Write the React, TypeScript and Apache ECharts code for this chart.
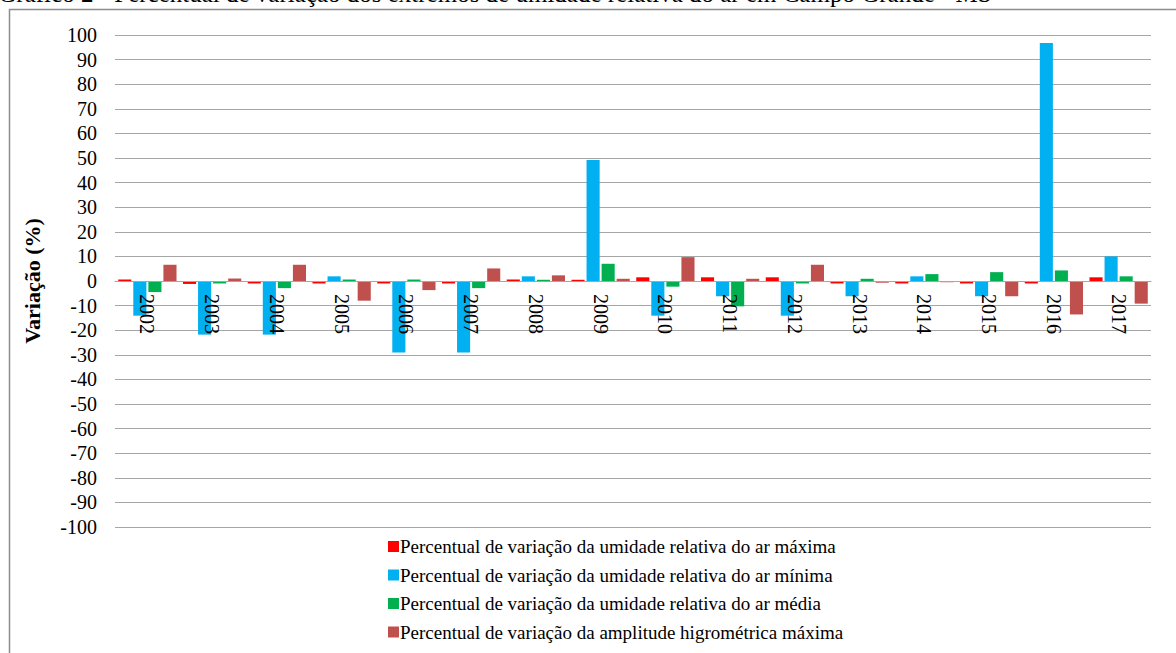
import React, { useEffect, useRef } from "react";
import * as echarts from "echarts";

const years = ["2002","2003","2004","2005","2006","2007","2008","2009","2010","2011","2012","2013","2014","2015","2016","2017"];
const urMax = [0.6, -1.2, -1.0, -1.0, -1.0, -1.0, 0.6, 0.5, 1.5, 1.5, 1.5, -1.0, -1.0, -1.0, -1.0, 1.5];
const urMin = [-14.1, -21.8, -21.8, 1.9, -29.1, -29.1, 1.9, 49.2, -14.1, -6.2, -14.1, -6.2, 1.9, -6.2, 96.7, 10.0];
const urMed = [-4.5, -1.0, -2.9, 0.6, 0.6, -2.9, 0.5, 7.0, -2.3, -10.3, -1.0, 0.9, 2.8, 3.6, 4.3, 1.9];
const ampMax = [6.6, 1.0, 6.6, -8.0, -3.7, 5.1, 2.3, 0.9, 9.7, 0.9, 6.6, -0.7, -0.5, -6.2, -13.6, -9.2];

const seriesNames = [
  "Percentual de variação da umidade relativa do ar máxima",
  "Percentual de variação da umidade relativa do ar mínima",
  "Percentual de variação da umidade relativa do ar média",
  "Percentual de variação da amplitude higrométrica máxima",
];
const colors = ["#FF0000", "#00B0F0", "#00B050", "#C0504D"];
const title = "Gráfico 2 - Percentual de variação dos extremos de umidade relativa do ar em Campo Grande - MS";

export default function App() {
  const ref = useRef<HTMLDivElement>(null);
  useEffect(() => {
    if (!ref.current) return;
    const chart = echarts.init(ref.current, null, { renderer: "svg" });
    const font = "'Liberation Serif', 'Times New Roman', serif";
    const data = [urMax, urMin, urMed, ampMax];
    chart.setOption({
      animation: false,
      backgroundColor: "#ffffff",
      textStyle: { fontFamily: font },
      graphic: [
        {
          type: "rect",
          shape: { x: 9.5, y: 9.5, width: 1300, height: 800 },
          style: { fill: "none", stroke: "#8c8c8c", lineWidth: 1.5 },
          silent: true,
        },
        {
          type: "text",
          x: 495,
          y: -7,
          style: {
            text: title,
            font: `25px ${font}`,
            fill: "#000",
            align: "center",
            verticalAlign: "middle",
          },
        },
      ],
      legend: {
        orient: "vertical",
        left: 383,
        top: 532,
        itemWidth: 11,
        itemHeight: 11,
        itemGap: 9.5,
        icon: "rect",
        textStyle: { fontFamily: font, fontSize: 19, color: "#000", padding: [0, 0, 0, -4] },
        data: seriesNames,
      },
      grid: { left: 115, right: 25, top: 35, bottom: 126, containLabel: false },
      xAxis: {
        type: "category",
        data: years,
        boundaryGap: true,
        position: "bottom",
        offset: -246,
        z: 10,
        axisLine: { show: true, onZero: false, lineStyle: { color: "#a6a6a6", width: 1 } },
        axisTick: { show: false },
        axisLabel: {
          rotate: -90,
          margin: 13,
          fontFamily: font,
          fontSize: 20,
          color: "#000",
          interval: 0,
        },
      },
      yAxis: {
        type: "value",
        min: -100,
        max: 100,
        interval: 10,
        name: "Variação (%)",
        nameLocation: "middle",
        nameGap: 72,
        nameRotate: 90,
        nameTextStyle: { fontFamily: font, fontSize: 22, fontWeight: "bold", color: "#000" },
        axisLine: { show: false },
        axisTick: { show: false },
        axisLabel: { fontFamily: font, fontSize: 20, color: "#000", margin: 18 },
        splitLine: { show: true, lineStyle: { color: "#a6a6a6", width: 1 } },
      },
      series: seriesNames.map((n, i) => ({
        name: n,
        type: "bar",
        data: data[i],
        itemStyle: { color: colors[i] },
        barGap: "15%",
        barCategoryGap: "10%",
      })),
    });
    return () => chart.dispose();
  }, []);
  return (
    <div
      ref={ref}
      style={{ position: "fixed", left: 0, top: 0, width: 1176, height: 653 }}
    />
  );
}
